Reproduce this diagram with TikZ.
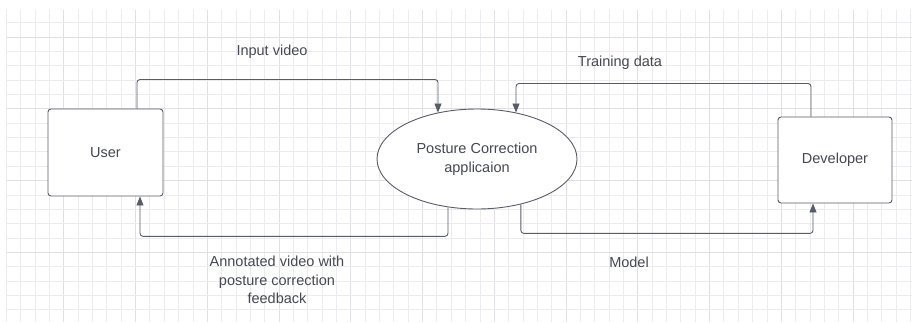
\documentclass[tikz,border=0pt]{standalone}
\usepackage{fontspec}
\setmainfont{Liberation Sans}
\usetikzlibrary{arrows.meta,shapes.geometric}

\definecolor{lineclr}{RGB}{88,92,104}
\definecolor{textclr}{RGB}{70,72,82}
\definecolor{gridclr}{RGB}{236,236,238}
\definecolor{gridmaj}{RGB}{224,224,228}

\begin{document}
\begin{tikzpicture}[x=1pt,y=-1pt,
    every node/.style={text=textclr,font=\fontsize{14.5}{18.5}\selectfont},
    entity/.style={draw=lineclr,line width=0.9pt,rounded corners=3pt,minimum width=115pt,minimum height=87pt},
    process/.style={ellipse,draw=lineclr,line width=0.9pt,minimum width=200pt,minimum height=100pt,align=center},
    flow/.style={draw=lineclr,line width=0.9pt,rounded corners=3pt,-{Triangle[length=9pt,width=7pt]}}]
\useasboundingbox (0,0) rectangle (912,322);
% grid paper
\foreach \k in {0,...,63}{
    \pgfmathsetmacro{\gx}{6.3+14.35*\k}
    \pgfmathtruncatemacro{\km}{mod(\k,5)}
    \ifnum\km=4 \draw[gridmaj,line width=0.8pt] (\gx,10) -- (\gx,322);
    \else \draw[gridclr,line width=0.7pt] (\gx,10) -- (\gx,322); \fi
}
\foreach \j in {1,...,21}{
    \pgfmathsetmacro{\gy}{8.3+14.35*\j}
    \pgfmathtruncatemacro{\jm}{mod(\j,5)}
    \ifnum\jm=2 \draw[gridmaj,line width=0.8pt] (7,\gy) -- (912,\gy);
    \else \draw[gridclr,line width=0.7pt] (7,\gy) -- (912,\gy); \fi
}

\node[entity,fill=white] (user) at (105.5,152.5) {User};
\node[process,fill=white] (app) at (477,159) {Posture Correction\\applicaion};
\node[entity,fill=white,minimum width=114pt,minimum height=86pt] (dev) at (835,160) {Developer};

\draw[flow] ([xshift=31.5pt]user.north) |- ([yshift=33pt]app.130) -- (app.130);
\draw[flow] (app.239) -- ++(0,29) -| ([xshift=34.5pt]user.south);
\draw[flow] ([xshift=-24pt]dev.north) |- ([yshift=29pt]app.50) -- (app.50);
\draw[flow] (app.314) -- ++(0,29) -| ([xshift=-22pt]dev.south);

\node (invid) at (272,52) {Input video};
\node (train) at (620,63) {Training data};
\node[align=center] (annot) at (277,280) {Annotated video with\\posture correction\\feedback};
\node (model) at (629,262) {Model};
\end{tikzpicture}
\end{document}
